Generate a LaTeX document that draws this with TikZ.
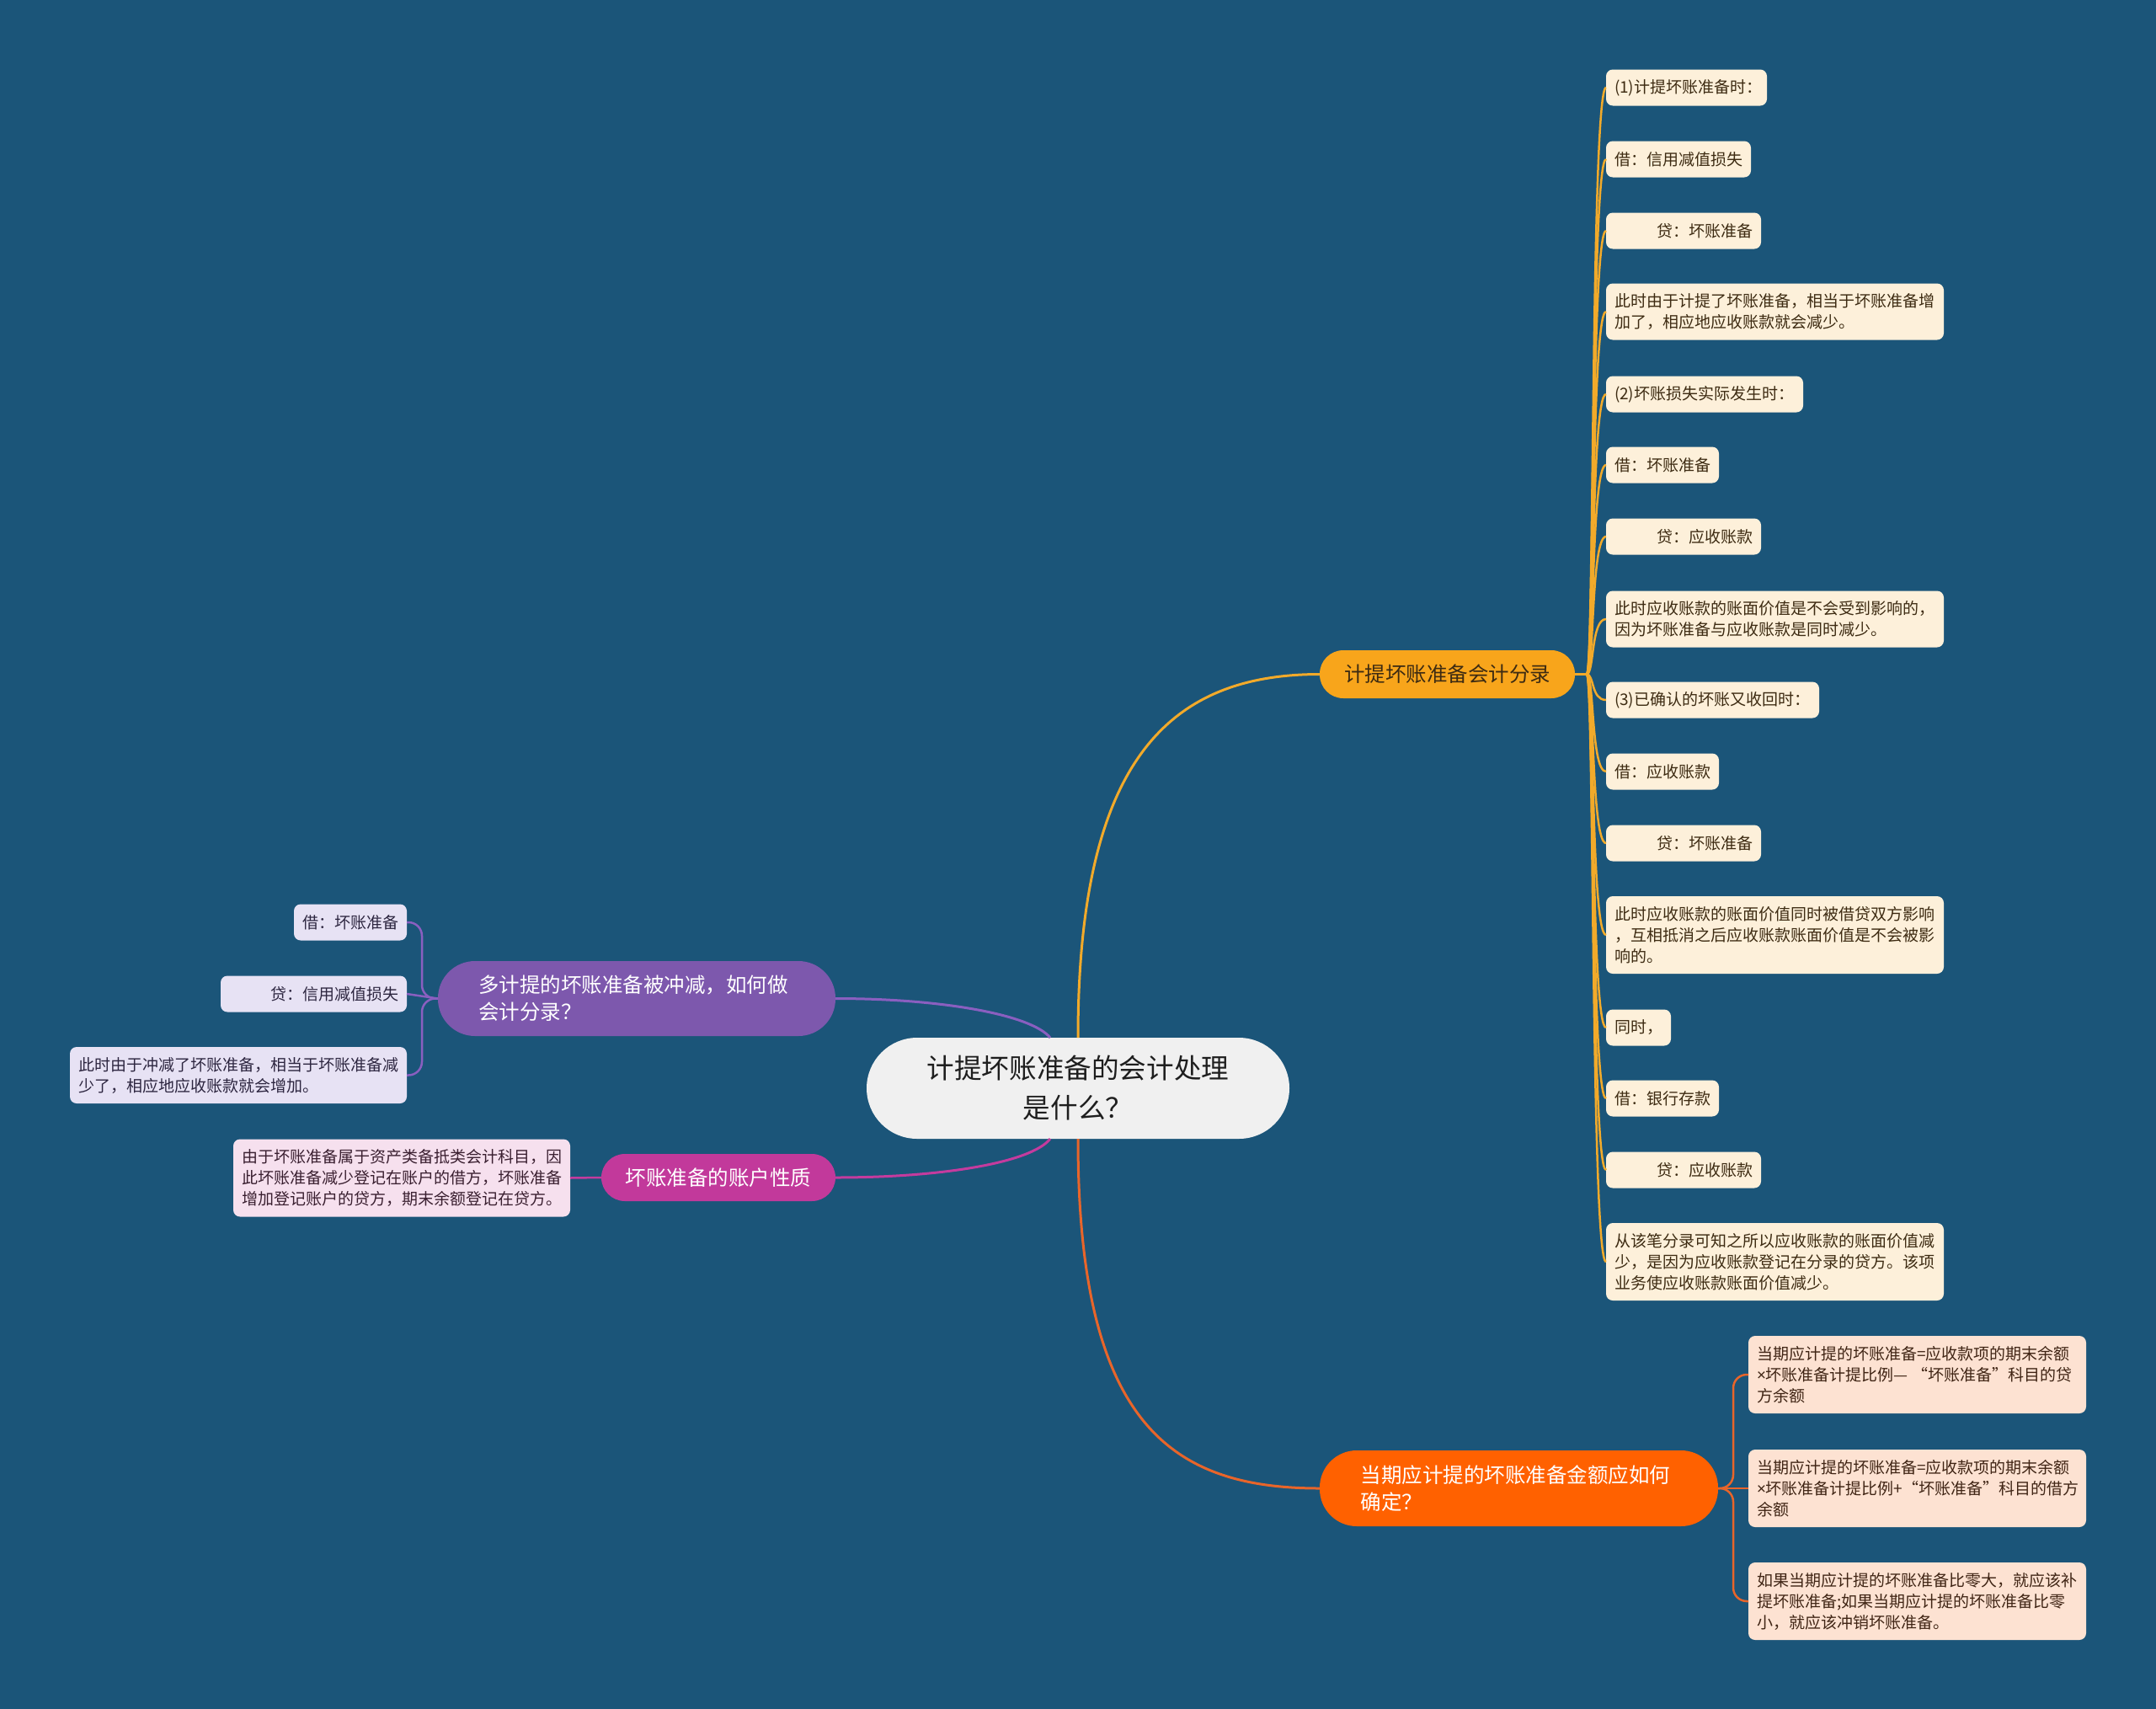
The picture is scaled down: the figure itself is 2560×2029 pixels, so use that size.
\documentclass[tikz,border=0pt]{standalone}
\usepackage{fontspec}
\setmainfont{Noto Sans CJK SC}
\newfontfamily\latinfont{Noto Sans}
\newcommand{\tms}{{\latinfont ×}}
\definecolor{bgc}{HTML}{1B5579}
\definecolor{cfill}{HTML}{F0F0F0}
\definecolor{ctext}{HTML}{1E1E1E}
\definecolor{yfill}{HTML}{F8A51B}
\definecolor{yline}{HTML}{F2AA2A}
\definecolor{yleaf}{HTML}{FDF0DA}
\definecolor{ytext}{HTML}{3D2B12}
\definecolor{pfill}{HTML}{7D58AD}
\definecolor{pline}{HTML}{8A5FC0}
\definecolor{pleaf}{HTML}{E7E2F4}
\definecolor{ptext}{HTML}{2D2640}
\definecolor{mfill}{HTML}{C2399B}
\definecolor{mline}{HTML}{C43B9E}
\definecolor{mleaf}{HTML}{F6E0EE}
\definecolor{mtext}{HTML}{3A1F30}
\definecolor{ofill}{HTML}{FF6100}
\definecolor{oline}{HTML}{E8652A}
\definecolor{oleaf}{HTML}{FDE2D2}
\definecolor{otext}{HTML}{402515}
\begin{document}
\begin{tikzpicture}[x=0.5pt,y=-0.5pt,
  every node/.style={inner sep=0pt, outer sep=0pt},
  leaf/.style={rounded corners=4pt, inner xsep=5pt, inner ysep=0pt, align=left,
    font=\fontsize{9.5pt}{12.5pt}\selectfont},
  leafY/.style={leaf, fill=yleaf, text=ytext, anchor=west},
  leafP/.style={leaf, fill=pleaf, text=ptext, anchor=east},
  leafM/.style={leaf, fill=mleaf, text=mtext, anchor=east},
  leafO/.style={leaf, fill=oleaf, text=otext, anchor=west, text width=190.5pt, minimum height=46pt},
  branch/.style={font=\fontsize{12.25pt}{16pt}\selectfont, align=left},
  one/.style={minimum height=21.5pt},
  two/.style={minimum height=33.5pt},
  three/.style={minimum height=46pt},
  mainline/.style={line width=1.5pt},
  subline/.style={line width=1.25pt},
]
\fill[bgc] (0,0) rectangle (2560,2029);
\useasboundingbox (0,0) rectangle (2560,2029);

% central node
\node[fill=cfill, text=ctext, rounded corners=30pt, minimum width=251pt, minimum height=60pt,
  align=center, font=\fontsize{16.3pt}{23.5pt}\selectfont] (c) at (1280,1292)
  {计提坏账准备的会计处理\\是什么？};

% branches
\node[branch, fill=yfill, text=ytext, rounded corners=14pt, minimum width=151.5pt, minimum height=28.5pt]
  (b1) at (1718.5,800.5) {计提坏账准备会计分录};
\node[branch, fill=pfill, text=white, rounded corners=22pt, minimum width=236pt, minimum height=44.5pt, text width=188pt]
  (b2) at (756,1185.5) {多计提的坏账准备被冲减，如何做\\会计分录？};
\node[branch, fill=mfill, text=white, rounded corners=14pt, minimum width=139pt, minimum height=28pt]
  (b3) at (853,1398) {坏账准备的账户性质};
\node[branch, fill=ofill, text=white, rounded corners=22pt, minimum width=236.5pt, minimum height=45pt, text width=188pt]
  (b4) at (1803.5,1767) {当期应计提的坏账准备金额应如何\\确定？};

% yellow leaves
\node[leafY, one, text width=85.5pt] (y1) at (1907,104) {(1)计提坏账准备时：};
\node[leafY, one, text width=76pt] (y2) at (1907,189) {借：信用减值损失};
\node[leafY, one, text width=82pt, align=right] (y3) at (1907,274) {贷：坏账准备};
\node[leafY, two, text width=190.5pt] (y4) at (1907,370) {此时由于计提了坏账准备，相当于坏账准备增\\加了，相应地应收账款就会减少。};
\node[leafY, one, text width=107pt] (y5) at (1907,468) {(2)坏账损失实际发生时：};
\node[leafY, one, text width=57pt] (y6) at (1907,552) {借：坏账准备};
\node[leafY, one, text width=82pt, align=right] (y7) at (1907,637) {贷：应收账款};
\node[leafY, two, text width=190.5pt] (y8) at (1907,735) {此时应收账款的账面价值是不会受到影响的，\\因为坏账准备与应收账款是同时减少。};
\node[leafY, one, text width=116.5pt] (y9) at (1907,831) {(3)已确认的坏账又收回时：};
\node[leafY, one, text width=57pt] (y10) at (1907,916) {借：应收账款};
\node[leafY, one, text width=82pt, align=right] (y11) at (1907,1001) {贷：坏账准备};
\node[leafY, three, text width=190.5pt] (y12) at (1907,1110) {此时应收账款的账面价值同时被借贷双方影响\\，互相抵消之后应收账款账面价值是不会被影\\响的。};
\node[leafY, one, text width=28.5pt] (y13) at (1907,1220) {同时，};
\node[leafY, one, text width=57pt] (y14) at (1907,1304) {借：银行存款};
\node[leafY, one, text width=82pt, align=right] (y15) at (1907,1389) {贷：应收账款};
\node[leafY, three, text width=190.5pt] (y16) at (1907,1498) {从该笔分录可知之所以应收账款的账面价值减\\少，是因为应收账款登记在分录的贷方。该项\\业务使应收账款账面价值减少。};

% purple leaves
\node[leafP, one, text width=57pt, align=right] (p1) at (483,1095) {借：坏账准备};
\node[leafP, one, text width=100.5pt, align=right] (p2) at (483,1180) {贷：信用减值损失};
\node[leafP, two, text width=190pt] (p3) at (483,1276.5) {此时由于冲减了坏账准备，相当于坏账准备减\\少了，相应地应收账款就会增加。};

% magenta leaf
\node[leafM, three, text width=190pt] (m1) at (677,1398.5) {由于坏账准备属于资产类备抵类会计科目，因\\此坏账准备减少登记在账户的借方，坏账准备\\增加登记账户的贷方，期末余额登记在贷方。};

% orange leaves
\node[leafO] (o1) at (2076,1632) {当期应计提的坏账准备=应收款项的期末余额\\\tms 坏账准备计提比例—\hspace{2.5pt}“坏账准备”科目的贷\\方余额};
\node[leafO] (o2) at (2076,1767) {当期应计提的坏账准备=应收款项的期末余额\\\tms 坏账准备计提比例+“坏账准备”科目的借方\\余额};
\node[leafO] (o3) at (2076,1901) {如果当期应计提的坏账准备比零大，就应该补\\提坏账准备;如果当期应计提的坏账准备比零\\小，就应该冲销坏账准备。};

% main connectors
\draw[mainline, yline] (c.north) .. controls (1280,900) and (1390,800.5) .. (b1.west);
\draw[mainline, oline] (c.south) .. controls (1280,1690) and (1390,1767) .. (b4.west);
\draw[mainline, pline] (b2.east) .. controls (1120,1185.5) and (1225,1205) .. ([xshift=-16.5pt]c.north);
\draw[mainline, mline] (b3.east) .. controls (1120,1398) and (1225,1380) .. ([xshift=-16.5pt]c.south);

% yellow leaf connectors
\foreach \n/\yy in {y1/104,y2/189,y3/274,y4/370,y5/468,y6/552,y7/637,y8/735,y9/831,y10/916,y11/1001,y12/1110,y13/1220,y14/1304,y15/1389,y16/1498}
  \draw[subline, yline] (b1.east) -- (1884,800.5) .. controls (1893,800.5) and (1889,\yy) .. (\n.west);

% purple leaf connectors
\draw[subline, pline, rounded corners=8pt] (b2.west) -- (501,1185.5) -- (501,1095) -- (p1.east);
\draw[subline, pline] (b2.west) -- (p2.east);
\draw[subline, pline, rounded corners=8pt] (b2.west) -- (501,1185.5) -- (501,1276.5) -- (p3.east);

% magenta leaf connector
\draw[subline, mline] (b3.west) -- (m1.east);

% orange leaf connectors
\draw[subline, oline, rounded corners=8pt] (b4.east) -- (2058,1767) -- (2058,1632) -- (o1.west);
\draw[subline, oline] (b4.east) -- (o2.west);
\draw[subline, oline, rounded corners=8pt] (b4.east) -- (2058,1767) -- (2058,1901) -- (o3.west);
\end{tikzpicture}
\end{document}
